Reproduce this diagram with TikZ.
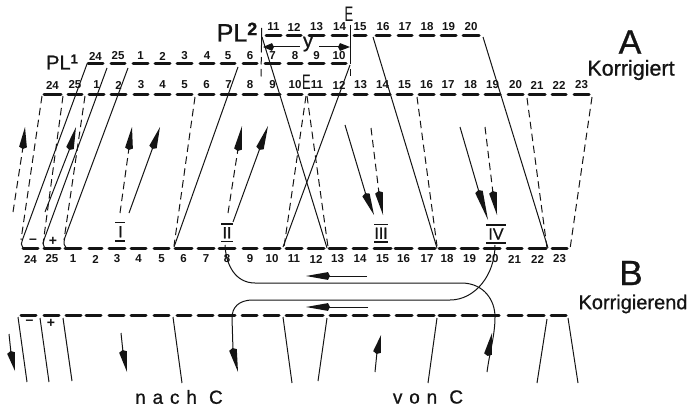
\documentclass[tikz,border=0pt]{standalone}
\usepackage{fontspec}
\setmainfont{Liberation Sans}
\newfontfamily\spacedfont[LetterSpace=36,FakeBold=0.8]{Liberation Sans}
\newfontfamily\medfont[FakeBold=0.8]{Liberation Sans}
\usetikzlibrary{calc}
\definecolor{ink}{gray}{0.08}
\newcommand\fs[1]{\fontsize{#1}{#1}\selectfont}
\tikzset{
  seg/.style={ink,line width=3pt,line cap=round},
  num/.style={ink,font=\fs{11.5}\bfseries,inner sep=0pt},
  solidline/.style={ink,line width=1pt},
  dashline/.style={ink,line width=1pt,dash pattern=on 7.5pt off 4.5pt},
  big/.style={ink,inner sep=0pt},
  rmnrule/.style={ink,line width=1.4pt},
}
\newcommand\kite[2]{\fill[ink] (#1) -- ($(#2)!3.9pt!90:(#1)$) -- ($(#2)!2pt!180:(#1)$) -- ($(#2)!3.9pt!-90:(#1)$) -- cycle;}
\newcommand\rmnlabel[7]{%
  \node[big,font=\fs{16}\medfont] (#1) at (#2,{(#5+#6)/2}) {#7};
  \draw[rmnrule] (#3,#5) -- (#4,#5);
  \draw[rmnrule] (#3,#6) -- (#4,#6);
}
\begin{document}
\begin{tikzpicture}[x=1pt,y=-1pt]
\useasboundingbox (0,0) rectangle (700,409);
\fill[white] (0,0) rectangle (700,409);

% PL2 row
\foreach \a/\b/\t in {265/282/11,286/302/12,308/325/13,331/348/14,353/367/15,375/391/16,397/413/17,419/435/18,440/457/19,462/480/20}{
  \draw[seg] (\a+1,35.7) -- (\b-1,35.7);
  \node[num] (p\t) at ({(\a+\b)/2},27) {\t};
}
% PL1 row
\foreach \a/\b/\t in {87/104/24,110/126/25,132/149/1,154/171/2,176/193/3,199/215/4,220/236/5,242/258/6,264/281/7,287/303/8,308/325/9,331/347/10}{
  \draw[seg] (\a+1,63.5) -- (\b-1,63.5);
  \node[num] (q\t) at ({(\a+\b)/2},56) {\t};
}
% A row
\foreach \a/\b/\t in {43/62/24,67/83/25,88/105/1,110/127/2,133/149/3,154/171/4,176/193/5,198/215/6,220/237/7,242/258/8,264/281/9,287/303/10,308/326/11,331/347/12,353/368/13,374/391/14,396/413/15,418/435/16,440/456/17,462/479/18,484/501/19,507/524/20,528/546/21,551/567/22,573/590/23}{
  \draw[seg] (\a+1,94.5) -- (\b-1,94.5);
  \node[num] (a\t) at ({(\a+\b)/2},85) {\t};
}
% lower numbered row
\foreach \a/\b/\t in {22/39/24,43/61/25,64/82/1,88/103/2,108/126/3,130/147/4,153/170/5,174/193/6,197/215/7,218/236/8,242/258/9,263/281/10,285/303/11,307/325/12,328/347/13,352/368/14,373/392/15,394/413/16,418/436/17,438/456/18,460/479/19,483/501/20,506/523/21,528/547/22,551/568/23}{
  \draw[seg] (\a+1,248.3) -- (\b-1,248.3);
  \node[num] (c\t) at ({(\a+\b)/2},259) {\t};
}
% B row
\foreach \a/\b in {20/37,43/60,65/82,85/102,108/125,130/147,153/170,176/192,197/214,218/236,241/258,263/280,285/303,307/324,329/347,352/368,373/390,395/413,417/435,438/456,461/478,482/500,507/523,527/545,550/567}{
  \draw[seg] (\a+1,315.7) -- (\b-1,315.7);
}

% verticals
\draw[solidline] (261.7,28) -- (261.5,45);
\draw[dashline] (261.5,45) -- (261,77);
\draw[solidline] (350,25) -- (350,57);
\draw[dashline] (350,57) -- (350,80);
% y dimension
\node[big,font=\fs{20}\medfont] (yl) at (308,44) {y};
\draw[solidline] (268,47) -- (300,47);
\draw[solidline] (319,47) -- (342,47);
\kite{263,47}{272,47}
\kite{350,47}{340,47}

% solid oblique lines
\draw[solidline,rounded corners=2pt] (87,64) -- (22,241) -- (21,246) -- (24,248);
\draw[solidline,rounded corners=2pt] (107,68) -- (43.5,241) -- (43,246) -- (45,248);
\draw[solidline,rounded corners=2pt] (128,68) -- (64,240) -- (64,246) -- (67,248);
\draw[solidline] (238,67) -- (174,247);
\draw[solidline] (262,37) -- (327,248);
\draw[solidline] (350,65) -- (283,247);
\draw[solidline] (373,37) -- (437,248);
\draw[solidline] (483,37) -- (548,248);

% dashed oblique lines
\draw[dashline] (42,96) -- (21,240);
\draw[dashline] (63,96) -- (43,244);
\draw[dashline] (85,96) -- (64,240);
\draw[dashline] (195,97) -- (174,246);
\draw[dashline] (306,96) -- (284,247);
\draw[dashline] (307,96) -- (328,247);
\draw[dashline] (417,97) -- (437,246);
\draw[dashline] (527,98) -- (547,248);
\draw[dashline] (592,97) -- (570,249);

% vector arrows
\draw[dashline] (13,212) -- (23,147); \kite{25,127}{23,147}
\draw[solidline] (45,212) -- (70,148); \kite{76,127}{70,148}
\draw[dashline] (120,213) -- (129,148); \kite{132,127}{129,148}
\draw[solidline] (129,213) -- (153,147); \kite{160,127}{153,147}
\draw[dashline] (228,213) -- (238,149); \kite{242,126}{238,149}
\draw[solidline] (233,222) -- (260,148); \kite{268,126}{260,148}
\draw[solidline] (345,125) -- (366,195); \kite{374,215}{366,195}
\draw[dashline] (371,128) -- (379,193); \kite{383,215}{379,193}
\draw[solidline] (460,127) -- (479,192); \kite{488,220}{479,192}
\draw[dashline] (485,127) -- (493,193); \kite{497,215}{493,193}

% U-shaped leads
\draw[solidline] (225,245) .. controls (226,266) and (236,283) .. (255,283)
  -- (463,283) .. controls (484,284) and (495,300) .. (495,317)
  .. controls (495,335) and (490,350) .. (487,372);
\kite{492,333}{488,354}
\draw[solidline] (495,245) .. controls (495,275) and (475,300) .. (450,300)
  -- (253,300) .. controls (238,300) and (232,308) .. (232,318)
  -- (233,350);
\kite{238,372}{233,350}
\draw[solidline] (367,276) -- (326,276); \kite{306,276}{328,276}
\draw[solidline] (368,307) -- (326,307); \kite{306,307}{328,307}

% small arrows below B
\draw[solidline] (9,334) -- (11,353); \kite{15,371}{11,353}
\draw[solidline] (121,333) -- (123,352); \kite{127,372}{123,352}
\draw[solidline] (375,372) -- (377,352); \kite{381,335}{377,352}

% leads below B
\draw[solidline] (18,317) -- (27,382);
\draw[solidline] (40,318) -- (49,382);
\draw[solidline] (63,318) -- (72,381);
\draw[solidline] (173,317) -- (182,383);
\draw[solidline] (283,317) -- (292,383);
\draw[solidline] (327,318) -- (318,381);
\draw[solidline] (437,318) -- (428,383);
\draw[solidline] (547,319) -- (537,383);
\draw[solidline] (568,318) -- (578,383);

% Roman numerals
\rmnlabel{r1}{120.5}{115}{125}{222.5}{241}{I}
\rmnlabel{r2}{227}{221}{233}{224}{241.5}{II}
\rmnlabel{r3}{381}{374}{388}{224.5}{242}{III}
\rmnlabel{r4}{496}{486}{506}{225}{243}{IV}

% signs
\node[big,font=\fs{14}\bfseries] (m1) at (33,241.7) {--};
\node[big,font=\fs{14}\bfseries] (s1) at (53,241.7) {+};
\node[big,font=\fs{14}\bfseries] (m2) at (29.5,322) {--};
\node[big,font=\fs{14}\bfseries] (s2) at (51,323) {+};

% titles
\node[big,font=\fs{20}\medfont] (pl1) at (62,62) {PL\raisebox{.3em}{\fs{13}\bfseries 1}};
\node[big,font=\fs{25}\medfont] (pl2) at (237,32) {PL\raisebox{.25em}{\fs{18}\bfseries 2}};
\node[big,font=\fs{21},xscale=.62] (e1) at (349,14) {E};
\node[big,font=\fs{21},xscale=.62] (e2) at (306.5,82) {E};
\node[big,font=\fs{34}\medfont] (ta) at (630,42) {A};
\node[big,font=\fs{21.5}\medfont] (ka) at (631,70) {Korrigiert};
\node[big,font=\fs{35}\medfont] (tb) at (631,273) {B};
\node[big,font=\fs{20}\medfont] (kb) at (633,304) {Korrigierend};
\node[big,font=\fs{19}\spacedfont] (nc) at (179,397) {nach C};
\node[big,font=\fs{19}\spacedfont] (vc) at (428,397) {von C};
\end{tikzpicture}
\end{document}
